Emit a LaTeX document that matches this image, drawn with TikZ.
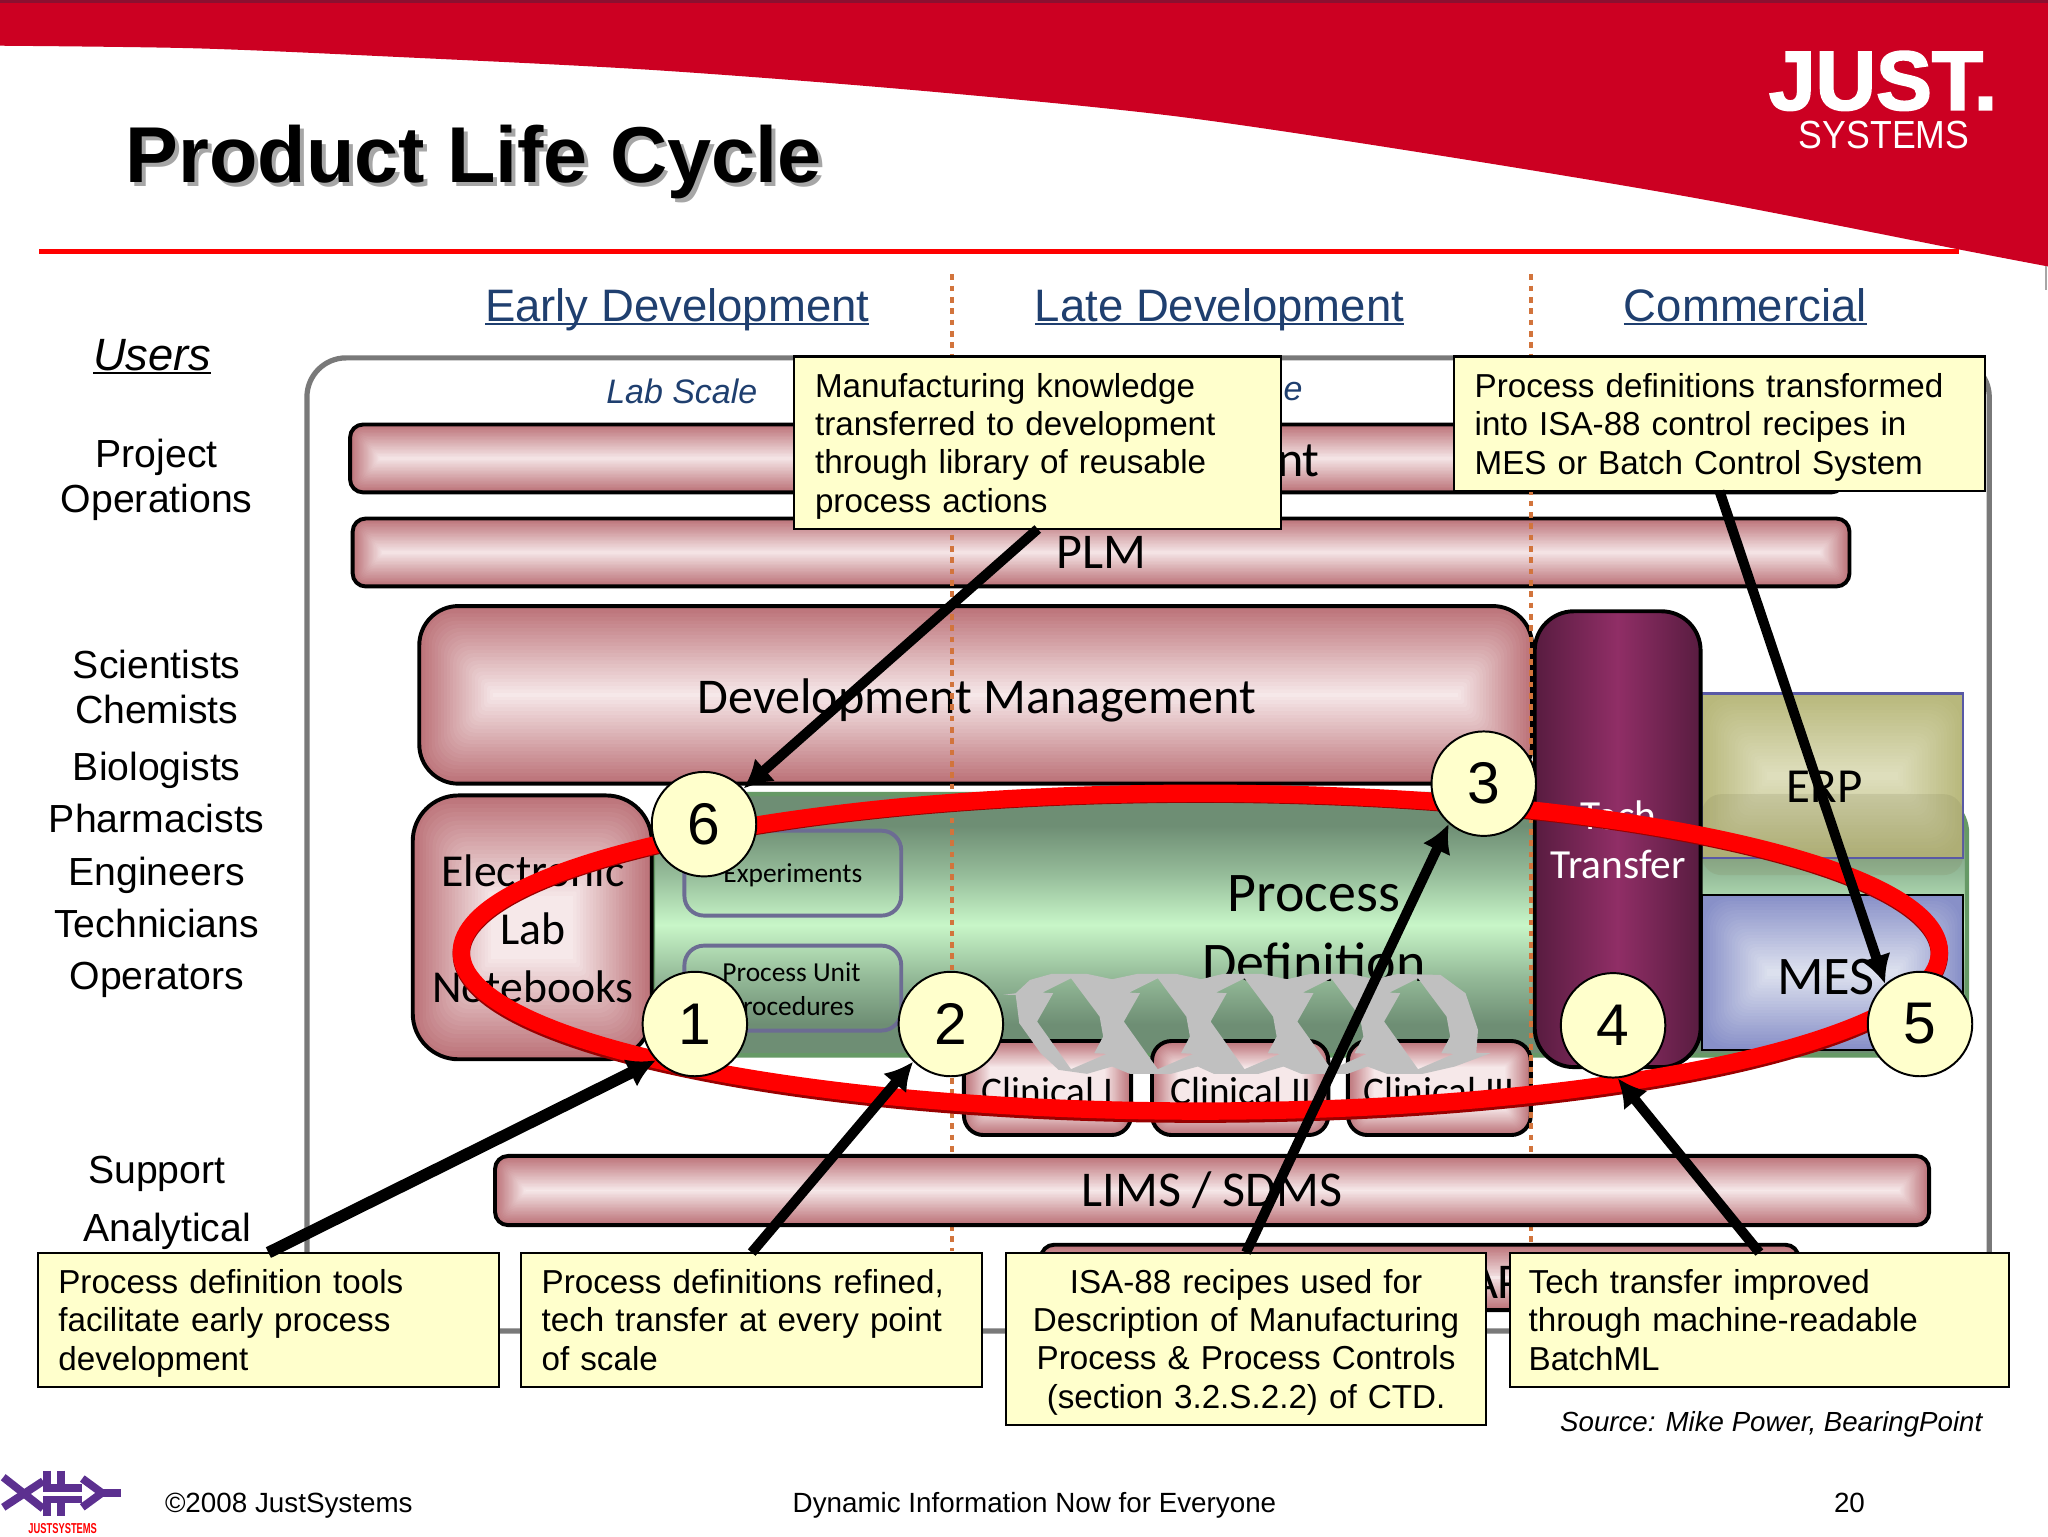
\documentclass[tikz,border=0pt]{standalone}
\usepackage{fontspec}
\usepackage{graphicx}
\setmainfont{Liberation Sans}
\newfontfamily\crl{Carlito}
\newfontfamily\justfont{Liberation Sans}[UprightFont=* Bold,FakeBold=2.2]
\usetikzlibrary{calc,arrows.meta,shapes.geometric}
\definecolor{hdr}{HTML}{CC0022}
\definecolor{hdrD}{HTML}{8A1030}
\definecolor{note}{HTML}{FFFFCC}
\definecolor{navy}{HTML}{1F3F6F}
\definecolor{dashc}{HTML}{D2743C}
\definecolor{rose}{HTML}{BC7278}
\definecolor{roseC}{HTML}{F6E8E9}
\definecolor{plum}{HTML}{581C40}
\definecolor{plumC}{HTML}{902E66}
\definecolor{olive}{HTML}{B8B87C}
\definecolor{oliveC}{HTML}{DEDEBC}
\definecolor{blueE}{HTML}{8890C8}
\definecolor{blueC}{HTML}{DCE0EE}
\definecolor{chev}{HTML}{C0C0C0}
\definecolor{logop}{HTML}{5C3090}
\definecolor{grnE}{HTML}{6E8E74}
\definecolor{grnM}{HTML}{94BA98}
\definecolor{grnC}{HTML}{C8F6C8}
\pgfdeclareverticalshading{pdshade}{100bp}{color(0bp)=(grnE); color(25bp)=(grnE); color(31bp)=(grnE); color(40bp)=(grnM); color(50bp)=(grnC); color(60bp)=(grnM); color(69bp)=(grnE); color(75bp)=(grnE); color(100bp)=(grnE)}
\newcommand\ulin[3]{\setbox0\hbox{#1}\rlap{\rule[-#2]{\wd0}{#3}}\box0}
\newcommand\fs[2]{\fontsize{#1}{#2}\selectfont}
\tikzset{
  box/.style n args={4}{at={({(#1+#3)/2},{(#2+#4)/2})},minimum width={(#3-#1)*0.6pt},minimum height={(#4-#2)*0.6pt},inner sep=0pt,outer sep=0pt},
  pillow/.style n args={5}{path picture={
    \coordinate (pA) at (path picture bounding box.north west);
    \coordinate (pC) at (path picture bounding box.south east);
    \fill[#1] (pA) rectangle (pC);
    \foreach \k in {1,...,24}{
      \pgfmathsetmacro\tv{\k/24*100}
      \pgfmathsetmacro\rr{(1-\k/24)*#5}
      \fill[#2!\tv!#1,rounded corners=\rr pt] ($(pA)+({\k/24*#3},{-\k/24*#4})$) rectangle ($(pC)+({-\k/24*#3},{\k/24*#4})$);
    }
  }},
  rosebar/.style={draw=black,line width=1.8pt,rounded corners=6pt,pillow={rose}{roseC}{14pt}{15.6pt}{4},font=\crl\fs{23}{26}},
  userlab/.style={font=\fs{18}{21},inner sep=0pt},
  head/.style={font=\fs{20.9}{24},text=navy,inner sep=0pt},
  notebox/.style={draw=black,line width=1pt,fill=note,font=\fs{15.25}{17.6},execute at begin node={\rule{0pt}{16.3pt}},execute at end node=\strut},
  foot/.style={font=\fs{12.77}{15},inner sep=0pt},
  step num/.style={circle,draw=black,line width=0.9pt,fill=note,minimum size=48pt,inner sep=0pt,font=\fs{27}{30}},
  pointer/.style={line width=4.6pt,draw=black,-{Latex[length=13pt,width=14pt]}},
  dashv/.style={draw=dashc,line width=1.8pt,dash pattern=on 2.6pt off 2.6pt},
  clin/.style={draw=black,line width=1.8pt,rounded corners=9pt,pillow={rose}{roseC}{12pt}{12pt}{6}},
}
\begin{document}
\begin{tikzpicture}[x=0.6pt,y=-0.6pt]
\useasboundingbox (0,0) rectangle (1568,1176);
\fill[white] (0,0) rectangle (1568,1176);
% header
\fill[hdr] plot[smooth,tension=0.5] coordinates {(0,35)(150,37)(300,43.4)(500,53.6)(700,69)(900,89)(1100,118.7)(1300,152)(1500,191)(1568,204)} -- (1568,0) -- (0,0) -- cycle;
\fill[hdrD] (0,0) rectangle (1568,2.5);
\draw[gray!70,line width=1pt] (1566.5,204) -- (1566.5,222);
\node[anchor=base west,inner sep=0pt,text=white,font=\justfont\fs{38.5}{40}] (just) at (1354,84) {JUST.};
\node[anchor=base west,inner sep=0pt,text=white,font=\fs{18}{20}] (sys) at (1377,113.5) {\scalebox{0.91}[1]{SYSTEMS}};
\node[anchor=base west,inner sep=0pt,text=gray!70,font=\bfseries\fs{36.4}{40}] (titleS) at (99,143) {Product Life Cycle};
\node[anchor=base west,inner sep=0pt,font=\bfseries\fs{36.4}{40}] (title) at (96,140) {Product Life Cycle};
\fill[red] (30,190.6) rectangle (1500,194.7);
% column heads
\node[head,anchor=base west] (early) at (371,246) {\ulin{Early Development}{1.6pt}{1pt}};
\node[head,anchor=base west] (late) at (792,246) {\ulin{Late Development}{1.6pt}{1pt}};
\node[head,anchor=base west] (comm) at (1243,246) {\ulin{Commercial}{1.6pt}{1pt}};
% users
\node[userlab,anchor=base west,font=\itshape\fs{20.8}{24}] (users) at (71,284) {\ulin{Users}{1.6pt}{1pt}};
\node[userlab] (u1) at (120,350) {Project};
\node[userlab] (u2) at (120,385) {Operations};
\node[userlab] (u3) at (120,509) {Scientists};
\node[userlab] (u4) at (120,543) {Chemists};
\node[userlab] (u5) at (120,590) {Biologists};
\node[userlab] (u6) at (120,627) {Pharmacists};
\node[userlab] (u7) at (120,670) {Engineers};
\node[userlab] (u8) at (120,707) {Technicians};
\node[userlab] (u9) at (120,750) {Operators};
\node[userlab] (u10) at (120,899) {Support};
\node[userlab] (u11) at (128,943) {Analytical};
% frame
\node[box={235}{274}{1523}{1019},draw=gray!95!black,line width=2.4pt,rounded corners=18pt,fill=white] (frame) {};
\node[inner sep=0pt,text=navy,font=\itshape\fs{15.6}{18}] (lab) at (522,300) {Lab Scale};
\node[inner sep=0pt,text=navy,font=\itshape\fs{15.6}{18}] (labe) at (990,300) {e};
% bars
\node[box={268}{325}{1412}{377},rosebar] (proj) {};
\node[inner sep=0pt,font=\crl\fs{23}{26}] (projt) at (994,353) {nt};
\node[box={270}{397}{1416}{449},rosebar] (plm) {PLM};
\node[box={321}{464}{1173}{600},draw=black,line width=1.8pt,rounded corners=18pt,pillow={rose}{roseC}{34pt}{40pt}{14}] (dev) {};
\node[inner sep=0pt,font=\crl\fs{23}{26}] (devt) at (748,536) {Development Management};
\node[box={500}{608}{1506}{808},draw=gray!80!green,line width=2pt,rounded corners=18pt,shade,shading=pdshade] (pd) {};
\node[box={1303}{531}{1503}{657},draw=blue!30!gray,line width=1pt,pillow={olive}{oliveC}{30pt}{36pt}{12}] (erp) {};
\fill[olive!70!black,opacity=0.18,rounded corners=9pt] (1303,608) rectangle (1503,670);
\draw[draw=blue!30!gray,line width=1pt] (erp.south west) -- (erp.south east);
\node[box={1303}{685}{1503}{804},draw=black,line width=1pt,pillow={blueE}{blueC}{30pt}{34pt}{12}] (mes) {};
\node[box={316}{609}{499}{811},draw=black,line width=1.8pt,rounded corners=21pt,pillow={rose}{roseC}{36pt}{46pt}{16}] (eln) {};
\node[inner sep=0pt,font=\crl\fs{21}{26.5},align=center] (elnt) at (408,711) {Electronic\\Lab\\Notebooks};
\node[box={524}{636}{690}{701},draw=blue!15!gray,line width=1.8pt,rounded corners=9pt] (exp) {};
\node[inner sep=0pt,font=\crl\fs{12.6}{15}] (expt) at (607,670) {Experiments};
\node[box={524}{724}{690}{789},draw=blue!15!gray,line width=1.8pt,rounded corners=9pt] (pup) {};
\node[inner sep=0pt,font=\crl\fs{12.6}{15.6},align=center] (pupt) at (606,757) {Process Unit\\Procedures};
\node[inner sep=0pt,font=\crl\fs{25.7}{32},align=center] (pdt) at (1006,711) {Process\\Definition};
\node[box={1175}{468}{1302}{817},draw=black,line width=1.8pt,rounded corners=18pt,left color=plum,right color=plum,middle color=plumC] (tt) {};
\node[inner sep=0pt,text=white,font=\crl\fs{19}{22.5},align=center] (ttt) at (1239,643) {Tech\\Transfer};
\node[inner sep=0pt,font=\crl\fs{22.5}{26}] (erpt) at (1397,602) {ERP};
\node[inner sep=0pt,font=\crl\fs{25}{26}] (mest) at (1398,748) {MES};
\node[box={738}{797}{866}{869},clin] (c1b) {};
\node[box={882}{797}{1017}{869},clin] (c2b) {};
\node[box={1032}{797}{1172}{869},clin] (c3b) {};
\node[inner sep=0pt,font=\crl\fs{18}{21}] (c1t) at (802,835) {Clinical I};
\node[inner sep=0pt,font=\crl\fs{18}{21}] (c2t) at (950,835) {Clinical II};
\node[inner sep=0pt,font=\crl\fs{18}{21}] (c3t) at (1102,835) {Clinical III};
% dashed phase lines
\draw[dashv] (729,210) -- (729,958);
\draw[dashv] (1172,210) -- (1172,958);
% interlocking chevrons
\begin{scope}[shift={(750.3,727.3)},x=0.164pt,y=-0.153pt]
\fill[chev,even odd rule]
  (65,135)--(100,130)--(140,90)--(200,72)--(300,72)--(370,88)--(440,72)--(550,72)--(620,88)--(680,72)--(790,72)--(860,88)--(925,72)--(1040,72)--(1105,88)--(1170,72)--(1290,75)--(1360,130)--(1395,240)--(1390,310)--(1430,310)--(1330,350)--(1240,372)--(1140,372)--(1085,350)--(1030,372)--(900,372)--(850,350)--(780,372)--(655,372)--(610,350)--(535,372)--(420,372)--(370,350)--(300,372)--(220,360)--(170,310)--(110,220)--(100,135)--cycle
  \foreach \d in {0,243,486,729,972}{
    (160+\d,215)--(205+\d,130)--(175+\d,128)--(255+\d,85)--(335+\d,200)--(345+\d,260)--(320+\d,310)--(355+\d,312)--(255+\d,358)--cycle
  };
\end{scope}
% lower bars
\node[box={379}{885}{1477}{938},rosebar] (lims) {LIMS / SDMS};
\node[box={797}{953}{1377}{1003},rosebar] (sap) {};
\node[inner sep=0pt,anchor=base east,font=\crl\fs{23}{26}] (sapt) at (1167,994) {AP};
% red cycle
\node[ellipse,draw=red!60!black,line width=8pt,minimum width=679pt,minimum height=147pt,inner sep=0pt] (ringS) at (919,730.5) {};
\node[ellipse,draw=red,line width=8pt,minimum width=679pt,minimum height=146pt,inner sep=0pt] (ring) at (919,729) {};
% callouts
\node[box={608}{273}{981}{405},notebox,text width=204.6pt,align=left] (n6) {Manufacturing knowledge\\transferred to development\\through library of reusable\\process actions};
\node[box={1113}{273}{1520}{376},notebox,text width=225pt,align=left] (n5) {Process definitions transformed\\into ISA-88 control recipes in\\MES or Batch Control System};
\node[box={29}{959}{382}{1062},notebox,text width=193pt,align=left] (n1) {Process definition tools\\facilitate early process\\development};
\node[box={399}{959}{752}{1062},notebox,text width=193pt,align=left] (n2) {Process definitions refined,\\tech transfer at every point\\of scale};
\node[box={770}{959}{1138}{1091},notebox,text width=210pt,align=center] (n3) {ISA-88 recipes used for\\Description of Manufacturing\\Process \& Process Controls\\(section 3.2.S.2.2) of CTD.};
\node[box={1156}{959}{1538}{1062},notebox,text width=212pt,align=left] (n4) {Tech transfer improved\\through machine-readable\\BatchML};
% numbered circles
\node[step num] (s1) at (532,784) {1};
\node[step num] (s2) at (728,784) {2};
\node[step num] (s3) at (1136,600) {3};
\node[step num] (s4) at (1235,785) {4};
\node[step num] (s5) at (1470,784) {5};
\node[step num] (s6) at (539,631) {6};
% pointers
\draw[pointer,line width=5.4pt] (n1.north) -- (s1.223);
\draw[pointer] (n2.north) -- (s2.225);
\draw[pointer] (n3.north) -- (s3.229);
\draw[pointer] (n4.north) -- (s4.275);
\draw[pointer] (n5.south) -- (s5.131);
\draw[pointer] (n6.south) -- (s6.42);
% footer
\node[inner sep=0pt,anchor=base east,font=\itshape\fs{12.7}{15}] (src) at (1518,1096) {Source: Mike Power, BearingPoint};
\node[foot,anchor=base west] (copy) at (126,1158) {©2008 JustSystems};
\node[foot,anchor=base] (dyn) at (792,1158) {Dynamic Information Now for Everyone};
\node[foot,anchor=base] (pg) at (1416,1158) {20};
\begin{scope}[logop,line width=3.6pt]
\draw (2.5,1131)--(33,1155); \draw (2.5,1154)--(33,1134);
\draw (36,1126)--(36,1137); \draw (47,1126)--(47,1137);
\draw (33,1139)--(63,1139); \draw (33,1148)--(63,1148);
\draw (36,1148)--(36,1161); \draw (47,1148)--(47,1161);
\draw (63,1132)--(78,1143)--(63,1154);
\draw (78,1143)--(93,1143);
\end{scope}
\node[inner sep=0pt,text=red,font=\bfseries\fs{6.6}{8}] (jslogo) at (48,1170) {\scalebox{0.65}[1]{JUSTSYSTEMS}};
\end{tikzpicture}
\end{document}
